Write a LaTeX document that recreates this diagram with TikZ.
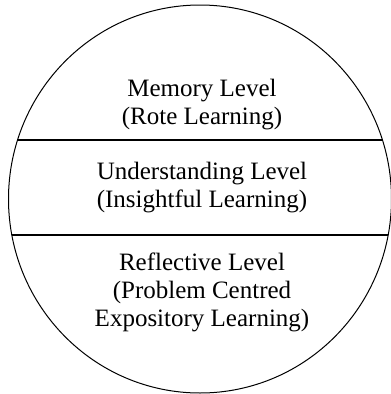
\documentclass[tikz,border=0pt]{standalone}
\usepackage{fontspec}
\setmainfont{Liberation Serif}
\begin{document}
\begin{tikzpicture}[x=1pt,y=-1pt, line join=round, line cap=round,
	level/.style={align=center, font=\fontsize{25}{28}\selectfont}]
	\def\cx{200} \def\cy{199} % tâm
	\def\rx{191.5} \def\ry{194}
	\useasboundingbox (0,0) rectangle (391,394);
	\draw[line width=1pt] (\cx,\cy) ellipse[x radius=\rx, y radius=\ry];
	\begin{scope}
		\clip (\cx,\cy) ellipse[x radius=\rx, y radius=\ry];
		\draw[line width=1.3pt] (0,140)--(391,140) (0,235)--(391,235);
	\end{scope}
	\node[level] (mem) at (202,105) {Memory Level\\(Rote Learning)};
	\node[level] (und) at (202,188) {Understanding Level\\(Insightful Learning)};
	\node[level] (ref) at (202,292) {Reflective Level\\(Problem Centred\\Expository Learning)};
\end{tikzpicture}
\end{document}
